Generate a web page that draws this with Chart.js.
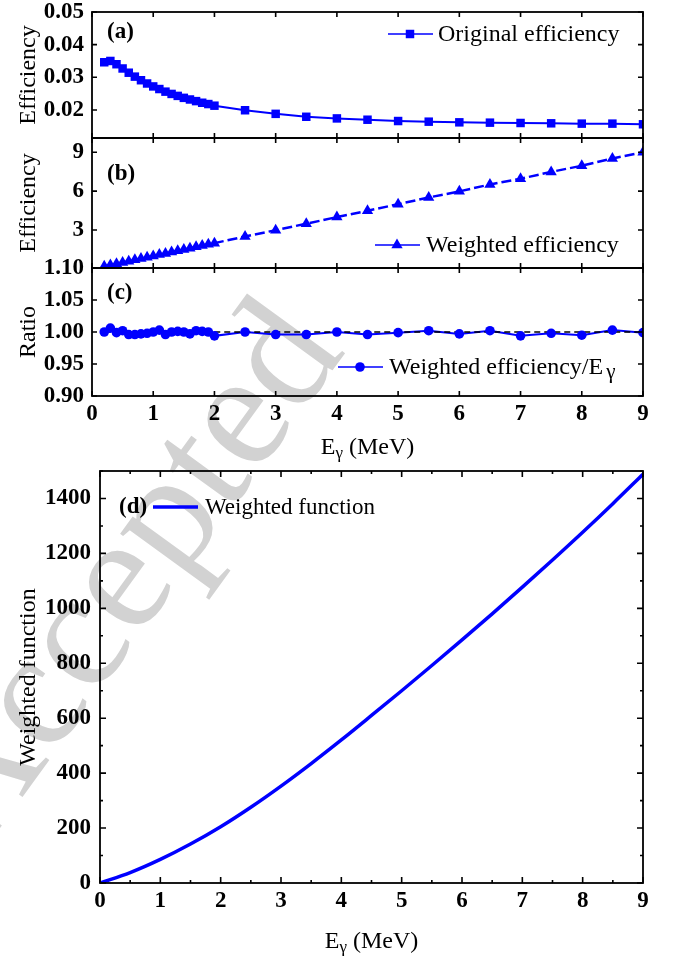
<!DOCTYPE html>
<html>
<head>
<meta charset="utf-8">
<script src="https://cdn.jsdelivr.net/npm/chart.js@4.4.0/dist/chart.umd.min.js"></script>
<style>
body{margin:0;background:#fff;}
#wrap{position:relative;width:676px;height:965px;}
#wrap canvas{position:absolute;left:0;top:0;}
</style>
</head>
<body>
<div id="wrap">
<canvas id="cvA" width="676" height="965"></canvas>
<canvas id="cvB" width="676" height="965"></canvas>
<canvas id="cvC" width="676" height="965"></canvas>
<canvas id="cvD" width="676" height="965"></canvas>
</div>
<script>
// gamma energies (MeV) of the efficiency points
var energies = [0.2,0.3,0.4,0.5,0.6,0.7,0.8,0.9,1.0,1.1,1.2,1.3,1.4,1.5,1.6,1.7,1.8,1.9,2.0,
                2.5,3.0,3.5,4.0,4.5,5.0,5.5,6.0,6.5,7.0,7.5,8.0,8.5,9.0];
// (a) original efficiency
var origEff = [0.0346,0.0350,0.0340,0.0327,0.0314,0.0302,0.0291,0.0281,0.0272,0.0264,0.0256,0.0249,0.0243,0.0237,0.0232,0.0227,0.0222,0.0218,0.0213,
               0.0199,0.0188,0.0179,0.0174,0.0170,0.0166,0.0164,0.0162,0.0161,0.0160,0.0159,0.0158,0.0158,0.0156];
// (b) weighted efficiency
var weightedEff = [0.200,0.302,0.400,0.501,0.598,0.697,0.798,0.898,1.000,1.103,1.195,1.300,1.401,1.500,1.595,1.703,1.802,1.900,1.988,
                   2.500,2.988,3.486,4.000,4.482,4.995,5.511,5.982,6.513,6.958,7.485,7.960,8.526,8.991];
// (c) weighted efficiency / E
var ratio = [1.000,1.006,0.999,1.002,0.996,0.996,0.997,0.998,1.000,1.003,0.996,1.000,1.001,1.000,0.997,1.002,1.001,1.000,0.994,
             1.000,0.996,0.996,1.000,0.996,0.999,1.002,0.997,1.002,0.994,0.998,0.995,1.003,0.999];
var refX = [0.2, 9.0];
var refY = [1.0, 1.0];
// (d) weighted function
var wfE = [0,0.5,1,1.5,2,2.5,3,3.5,4,4.5,5,5.5,6,6.5,7,7.5,8,8.5,9];
var wfVal = [0,38,86,142,205,276,353,435,521,610,700,792,885,980,1077,1176,1277,1381,1488];

// tick labels
var xTicks = [0,1,2,3,4,5,6,7,8,9];
var xMinorD = [0.5,1.5,2.5,3.5,4.5,5.5,6.5,7.5,8.5];
var yTicksA = [0.02,0.03,0.04,0.05];
var yTicksB = [3,6,9];
var yTicksC = [0.90,0.95,1.00,1.05,1.10];
var yTicksD = [0,200,400,600,800,1000,1200,1400];
var yMinorD = [100,300,500,700,900,1100,1300,1500];

var BLUE = '#0000ff';
var SERIF = '"Liberation Serif", "Times New Roman", serif';

function pts(xs, ys) {
  return xs.map(function (x, i) { return {x: x, y: ys[i]}; });
}

function drawMarker(ctx, style, x, y, r) {
  ctx.beginPath();
  if (style === 'rect') {
    var s = r * Math.SQRT1_2;
    ctx.rect(x - s, y - s, 2 * s, 2 * s);
  } else if (style === 'triangle') {
    ctx.moveTo(x, y - r);
    ctx.lineTo(x + r * 0.866, y + r * 0.5);
    ctx.lineTo(x - r * 0.866, y + r * 0.5);
    ctx.closePath();
  } else {
    ctx.arc(x, y, r, 0, Math.PI * 2);
  }
  ctx.fill();
}

function drawParts(ctx, parts, x, y) {
  parts.forEach(function (p) {
    ctx.font = p.font;
    ctx.fillText(p.t, x, y + (p.dy || 0));
    x += ctx.measureText(p.t).width + (p.gap || 0);
  });
}

// box, inward ticks on all four sides
var frameTicks = {
  id: 'frameTicks',
  afterDraw: function (chart, args, o) {
    var ctx = chart.ctx, a = chart.chartArea, sx = chart.scales.x, sy = chart.scales.y;
    ctx.save();
    ctx.strokeStyle = '#000';
    ctx.lineWidth = 1.6;
    ctx.beginPath();
    function xt(list, len) {
      (list || []).forEach(function (v) {
        var p = sx.getPixelForValue(v);
        ctx.moveTo(p, a.bottom); ctx.lineTo(p, a.bottom - len);
        ctx.moveTo(p, a.top); ctx.lineTo(p, a.top + len);
      });
    }
    function yt(list, len) {
      (list || []).forEach(function (v) {
        var p = sy.getPixelForValue(v);
        ctx.moveTo(a.left, p); ctx.lineTo(a.left + len, p);
        ctx.moveTo(a.right, p); ctx.lineTo(a.right - len, p);
      });
    }
    xt(o.xMajor, o.len); xt(o.xMinor, o.minorLen);
    yt(o.yMajor, o.len); yt(o.yMinor, o.minorLen);
    ctx.stroke();
    ctx.lineWidth = 1.8;
    ctx.strokeRect(a.left, a.top, a.right - a.left, a.bottom - a.top);
    ctx.restore();
  }
};

// panel tag, legend entry and x title
var panelText = {
  id: 'panelText',
  afterDraw: function (chart, args, o) {
    var ctx = chart.ctx, a = chart.chartArea;
    ctx.save();
    ctx.fillStyle = '#000';
    ctx.textBaseline = 'middle';
    ctx.textAlign = 'left';
    ctx.font = 'bold 23px ' + SERIF;
    ctx.fillText(o.tag, a.left + o.tagDx, a.top + o.tagDy);

    var ly = o.legFromBottom ? a.bottom - o.legDy : a.top + o.legDy;
    var x0 = a.left + o.legDx;
    ctx.strokeStyle = BLUE;
    ctx.fillStyle = BLUE;
    ctx.lineWidth = o.sampleWidth;
    ctx.beginPath();
    ctx.moveTo(x0, ly); ctx.lineTo(x0 + 45, ly);
    ctx.stroke();
    if (o.marker) drawMarker(ctx, o.marker, x0 + 22, ly, o.markerR);
    ctx.fillStyle = '#000';
    drawParts(ctx, o.text, x0 + 45 + o.textGap, ly + 1);

    if (o.xTitle) {
      var cx = (a.left + a.right) / 2;
      var big = '24px ' + SERIF, small = '17px ' + SERIF;
      var parts = [{t: 'E', font: big}, {t: 'γ', font: small, dy: 6}, {t: ' (MeV)', font: big}];
      var w = 0;
      parts.forEach(function (p) { ctx.font = p.font; w += ctx.measureText(p.t).width; });
      drawParts(ctx, parts, cx - w / 2, a.bottom + o.xTitleDy);
    }
    ctx.restore();
  }
};

// grey diagonal watermark behind everything
var watermark = {
  id: 'watermark',
  beforeDraw: function (chart) {
    var ctx = chart.ctx;
    ctx.save();
    ctx.translate(128, 578);
    ctx.rotate(-54 * Math.PI / 180);
    ctx.font = '165px ' + SERIF;
    ctx.fillStyle = '#d2d2d2';
    ctx.textAlign = 'center';
    ctx.textBaseline = 'middle';
    ctx.fillText('Accepted', 0, 0);
    ctx.restore();
  }
};

function setTicks(vals) {
  return function (s) { s.ticks = vals.map(function (v) { return {value: v}; }); };
}

function yAxis(min, max, ticks, title, width, fmt, pad) {
  return {
    type: 'linear', min: min, max: max,
    afterBuildTicks: setTicks(ticks),
    afterFit: function (s) { s.width = width; s.paddingTop = 0; s.paddingBottom = 0; },
    grid: {display: false, drawTicks: false},
    border: {display: false},
    ticks: {
      color: '#000', padding: pad,
      font: {family: SERIF, size: 23, weight: 'bold', lineHeight: 1},
      callback: fmt
    },
    title: {display: true, text: title, color: '#000', padding: {top: 14, bottom: 0},
            font: {family: SERIF, size: 24}}
  };
}

function xAxis(show, height) {
  return {
    type: 'linear', min: 0, max: 9, display: show,
    afterBuildTicks: setTicks(xTicks),
    afterFit: function (s) { s.height = height; },
    grid: {display: false, drawTicks: false},
    border: {display: false},
    ticks: {color: '#000', padding: 7,
            font: {family: SERIF, size: 23, weight: 'bold', lineHeight: 1}}
  };
}

function baseOptions(pad, scales, frame, text) {
  return {
    responsive: false,
    animation: false,
    layout: {padding: pad},
    scales: scales,
    plugins: {
      legend: {display: false},
      tooltip: {enabled: false},
      frameTicks: frame,
      panelText: text
    }
  };
}

var fix2 = function (v) { return Number(v).toFixed(2); };
var plain = function (v) { return String(v); };

// (a)
new Chart(document.getElementById('cvA').getContext('2d'), {
  type: 'line',
  data: {datasets: [{
    label: 'Original efficiency', data: pts(energies, origEff),
    borderColor: BLUE, backgroundColor: BLUE, borderWidth: 2,
    pointStyle: 'rect', pointRadius: 6, pointBorderWidth: 0
  }]},
  options: baseOptions({left: 0, top: 12, right: 33, bottom: 827},
    {x: xAxis(false, 0), y: yAxis(0.0114, 0.05, yTicksA, 'Efficiency', 92, fix2, 8)},
    {xMajor: xTicks, yMajor: yTicksA, len: 5},
    {tag: '(a)', tagDx: 15, tagDy: 20, legDx: 296, legDy: 22, sampleWidth: 1.3,
     marker: 'rect', markerR: 6, textGap: 5,
     text: [{t: 'Original efficiency', font: '24px ' + SERIF}]}),
  plugins: [watermark, frameTicks, panelText]
});

// (b)
new Chart(document.getElementById('cvB').getContext('2d'), {
  type: 'line',
  data: {datasets: [{
    label: 'Weighted efficiency', data: pts(energies, weightedEff),
    borderColor: BLUE, backgroundColor: BLUE, borderWidth: 2.5, borderDash: [10, 4],
    pointStyle: 'triangle', pointRadius: 6.5, pointBorderWidth: 0
  }]},
  options: baseOptions({left: 0, top: 138, right: 33, bottom: 697},
    {x: xAxis(false, 0), y: yAxis(0.07, 10.1, yTicksB, 'Efficiency', 92, plain, 8)},
    {xMajor: xTicks, yMajor: yTicksB, len: 5},
    {tag: '(b)', tagDx: 15, tagDy: 36, legDx: 283, legDy: 23, legFromBottom: true,
     sampleWidth: 1.3, marker: 'triangle', markerR: 6.5, textGap: 6,
     text: [{t: 'Weighted efficiency', font: '24px ' + SERIF}]}),
  plugins: [frameTicks, panelText]
});

// (c)
new Chart(document.getElementById('cvC').getContext('2d'), {
  type: 'line',
  data: {datasets: [
    {label: 'Weighted efficiency/Eγ', data: pts(energies, ratio), showLine: false,
     backgroundColor: BLUE, borderColor: BLUE, pointStyle: 'circle', pointRadius: 4.8, pointBorderWidth: 0},
    {label: 'ref', data: pts(refX, refY), borderColor: '#000', borderWidth: 1.5,
     borderDash: [6, 4], pointRadius: 0},
    {label: 'line', data: pts(energies, ratio), borderColor: BLUE, borderWidth: 2, pointRadius: 0}
  ]},
  options: baseOptions({left: 0, top: 268, right: 33, bottom: 499},
    {x: xAxis(true, 70), y: yAxis(0.90, 1.10, yTicksC, 'Ratio', 92, fix2, 8)},
    {xMajor: xTicks, yMajor: yTicksC, len: 5},
    {tag: '(c)', tagDx: 15, tagDy: 25, legDx: 246, legDy: 29, legFromBottom: true,
     sampleWidth: 1.3, marker: 'circle', markerR: 4.8, textGap: 6,
     text: [{t: 'Weighted efficiency/E', font: '24px ' + SERIF, gap: 3},
            {t: 'γ', font: '21px ' + SERIF, dy: 4}],
     xTitle: true, xTitleDy: 52}),
  plugins: [frameTicks, panelText]
});

// (d)
new Chart(document.getElementById('cvD').getContext('2d'), {
  type: 'line',
  data: {datasets: [{
    label: 'Weighted function', data: pts(wfE, wfVal),
    borderColor: BLUE, borderWidth: 3.5, pointRadius: 0, cubicInterpolationMode: 'monotone'
  }]},
  options: baseOptions({left: 0, top: 471, right: 33, bottom: 0},
    {x: xAxis(true, 82), y: yAxis(0, 1500, yTicksD, 'Weighted function', 100, plain, 9)},
    {xMajor: xTicks, xMinor: xMinorD, yMajor: yTicksD, yMinor: yMinorD, len: 6, minorLen: 3},
    {tag: '(d)', tagDx: 19, tagDy: 36, legDx: 53, legDy: 36, sampleWidth: 3.5,
     marker: null, textGap: 7,
     text: [{t: 'Weighted function', font: '23px ' + SERIF}],
     xTitle: true, xTitleDy: 59}),
  plugins: [frameTicks, panelText]
});
</script>
</body>
</html>
